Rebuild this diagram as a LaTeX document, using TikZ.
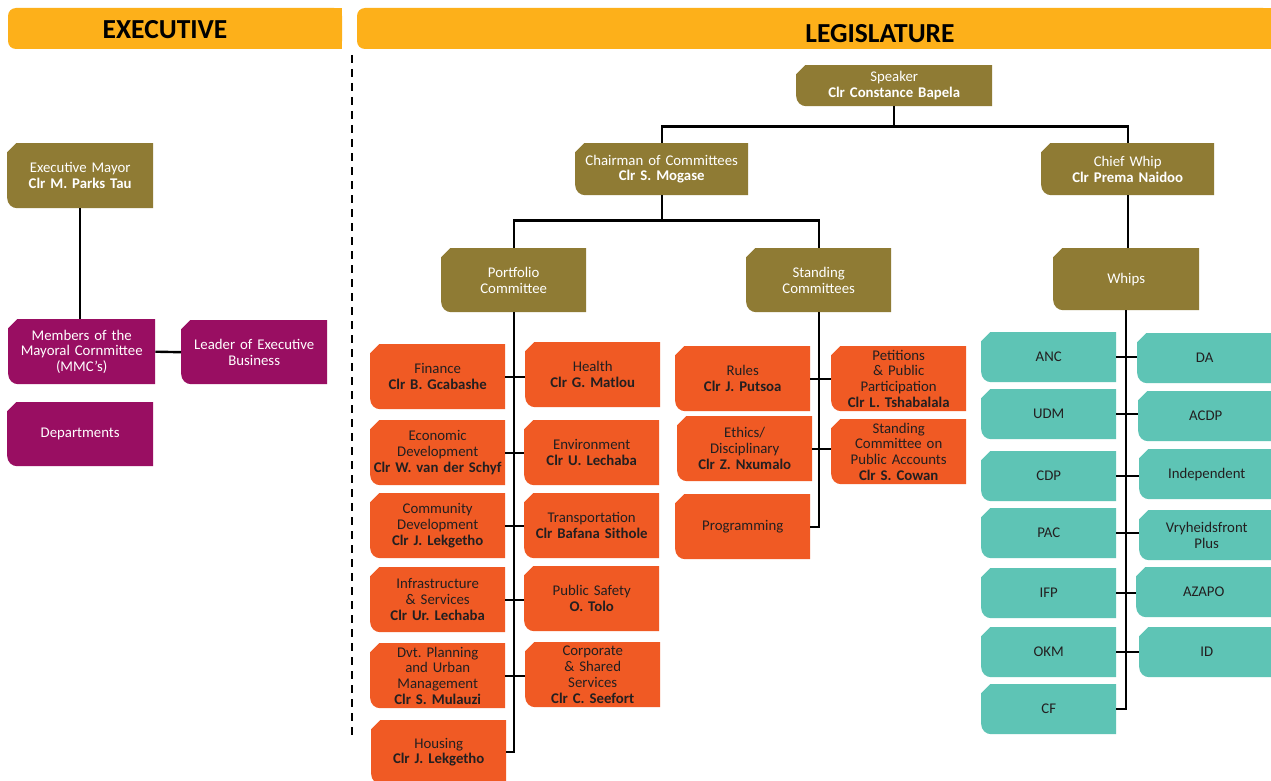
\documentclass[tikz,border=0pt]{standalone}
\usepackage{fontspec}
\setmainfont{Carlito}
\frenchspacing
\definecolor{goldc}{RGB}{143,123,52}
\definecolor{magc}{RGB}{153,14,98}
\definecolor{orc}{RGB}{240,90,36}
\definecolor{tealc}{RGB}{94,196,181}
\definecolor{hdrc}{RGB}{253,176,26}
\definecolor{darkc}{RGB}{35,31,32}
\tikzset{
  cb/.style={rectangle, inner sep=0pt, align=center,
    path picture={\fill[#1] ([xshift=9pt]path picture bounding box.north west) -- (path picture bounding box.north east) -- (path picture bounding box.south east) -- ([xshift=10pt]path picture bounding box.south west) arc[start angle=-90,end angle=-180,radius=10pt] -- ([yshift=-9pt]path picture bounding box.north west) -- cycle;}},
  gbox/.style={cb=goldc, text=white},
  mbox/.style={cb=magc, text=white, text width=146pt, minimum height=65pt},
  obox/.style={cb=orc, text=darkc, text width=135pt, minimum height=65pt},
  tbox/.style={cb=tealc, text=darkc, text width=135pt, minimum height=50pt},
  conn/.style={line width=2.4pt, draw=black},
  hdrtext/.style={font=\fontsize{27.5}{30}\selectfont\bfseries, text=black},
}
\begin{document}
\begin{tikzpicture}[x=1pt,y=-1pt, every node/.append style={font=\fontsize{14.8}{15.8}\selectfont}]
\useasboundingbox[fill=white] (0,0) rectangle (1271,781);
% headers
\fill[hdrc, rounded corners=8pt] (8,8) rectangle (342,49);
\fill[hdrc] (100,8) rectangle (342,49);
\fill[hdrc, rounded corners=8pt] (357,8) rectangle (1271,49);
\fill[hdrc] (450,8) rectangle (1271,49);
\node[hdrtext] (exechdr) at (165,30) {EXECUTIVE};
\node[hdrtext] (leghdr) at (880,34) {LEGISLATURE};
\coordinate (dtop) at (352,55);
\coordinate (dbot) at (352,735);
\draw[line width=2.4pt, dash pattern=on 8pt off 6pt] (dtop) -- (dbot);
% executive
\node[gbox, anchor=north west, text width=146pt, minimum height=65pt] (mayor) at (7,143) {Executive Mayor\\\textbf{Clr M. Parks Tau}};
\node[mbox, anchor=north west, text width=147pt] (mmc) at (8,319) {Members of the\\Mayoral Cornmittee\\(MMC’s)};
\node[mbox, anchor=north west, minimum height=64pt] (leader) at (181,320) {Leader of Executive\\Business};
\node[mbox, anchor=north west, minimum height=64pt] (dept) at (7,402) {Departments};
\draw[conn] (mayor.south) -- (mayor.south |- mmc.north);
\draw[conn] (mmc.east) -- (leader.west);
% legislature top
\node[gbox, anchor=north west, text width=196pt, minimum height=41pt] (speaker) at (796,65) {Speaker\\\textbf{Clr Constance Bapela}};
\node[gbox, anchor=north west, text width=173pt, minimum height=52pt] (chair) at (575,143) {Chairman of Committees\\\textbf{Clr S. Mogase}};
\node[gbox, anchor=north west, text width=173pt, minimum height=52pt] (whip) at (1041,143) {Chief Whip\\\textbf{Clr Prema Naidoo}};
\node[gbox, anchor=north west, text width=145pt, minimum height=64pt] (port) at (441,248) {Portfolio\\Committee};
\node[gbox, anchor=north west, text width=145pt, minimum height=64pt] (stand) at (746,248) {Standing\\Committees};
\node[gbox, anchor=north west, text width=146pt, minimum height=62pt] (whips) at (1053,248) {Whips};
\draw[conn] (speaker.south) -- ([yshift=-20pt]speaker.south);
\draw[conn] (chair.north) |- ([yshift=-20pt]speaker.south) -| (whip.north);
\draw[conn] (chair.south) -- ([yshift=-25pt]chair.south);
\draw[conn] (port.north) |- ([yshift=-25pt]chair.south) -| (stand.north);
\draw[conn] (whip.south) -- (whip.south |- whips.north);
% portfolio committees
\node[obox, anchor=north west] (fin) at (370,344) {Finance\\\textbf{Clr B. Gcabashe}};
\node[obox, anchor=north west] (eco) at (370,420) {Economic\\Development\\\textbf{Clr W. van der Schyf}};
\node[obox, anchor=north west] (com) at (370,493) {Community\\Development\\\textbf{Clr J. Lekgetho}};
\node[obox, anchor=north west] (inf) at (370,567) {Infrastructure\\\& Services\\\textbf{Clr Ur. Lechaba}};
\node[obox, anchor=north west] (dvt) at (370,643) {Dvt. Planning\\and Urban\\Management\\\textbf{Clr S. Mulauzi}};
\node[obox, anchor=north west, minimum height=64pt] (hou) at (371,720) {Housing\\\textbf{Clr J. Lekgetho}};
\node[obox, anchor=north west] (hea) at (525,342) {Health\\\textbf{Clr G. Matlou}};
\node[obox, anchor=north west] (env) at (524,420) {Environment\\\textbf{Clr U. Lechaba}};
\node[obox, anchor=north west] (tra) at (524,493) {Transportation\\\textbf{Clr Bafana Sithole}};
\node[obox, anchor=north west] (pub) at (524,566) {Public Safety\\\textbf{O. Tolo}};
\node[obox, anchor=north west] (cor) at (525,642) {Corporate\\\& Shared\\Services\\\textbf{Clr C. Seefort}};
\draw[conn] (port.south) |- (hou.east);
\draw[conn] (fin.east) -- (fin.east -| hea.west);
\draw[conn] (eco.east) -- (eco.east -| env.west);
\draw[conn] (com.east) -- (com.east -| tra.west);
\draw[conn] (inf.east) -- (inf.east -| pub.west);
\draw[conn] (dvt.east) -- (dvt.east -| cor.west);
% standing committees
\node[obox, anchor=north west] (rul) at (675,346) {Rules\\\textbf{Clr J. Putsoa}};
\node[obox, anchor=north west] (pet) at (831,346) {Petitions\\\& Public\\Participation\\\textbf{Clr L. Tshabalala}};
\node[obox, anchor=north west] (eth) at (677,416) {Ethics/\\Disciplinary\\\textbf{Clr Z. Nxumalo}};
\node[obox, anchor=north west] (sco) at (831,419) {Standing\\Committee on\\Public Accounts\\\textbf{Clr S. Cowan}};
\node[obox, anchor=north west] (pro) at (675,494) {Programming};
\draw[conn] (stand.south) |- (pro.east);
\draw[conn] (rul.east) -- (rul.east -| pet.west);
\draw[conn] (eth.east) -- (eth.east -| sco.west);
% whips
\node[tbox, anchor=north west] (anc) at (981,332) {ANC};
\node[tbox, anchor=north west] (udm) at (981,389) {UDM};
\node[tbox, anchor=north west] (cdp) at (981,451) {CDP};
\node[tbox, anchor=north west] (pac) at (981,508) {PAC};
\node[tbox, anchor=north west] (ifp) at (981,568) {IFP};
\node[tbox, anchor=north west] (okm) at (981,627) {OKM};
\node[tbox, anchor=north west] (cf) at (981,684) {CF};
\node[tbox, anchor=north west] (da) at (1137,333) {DA};
\node[tbox, anchor=north west] (acdp) at (1138,391) {ACDP};
\node[tbox, anchor=north west] (ind) at (1139,449) {Independent};
\node[tbox, anchor=north west] (vry) at (1139,510) {Vryheidsfront\\Plus};
\node[tbox, anchor=north west] (aza) at (1136,567) {AZAPO};
\node[tbox, anchor=north west] (id) at (1139,627) {ID};
\draw[conn] (whips.south) |- (cf.east);
\draw[conn] (anc.east) -- (anc.east -| da.west);
\draw[conn] (udm.east) -- (udm.east -| acdp.west);
\draw[conn] (cdp.east) -- (cdp.east -| ind.west);
\draw[conn] (pac.east) -- (pac.east -| vry.west);
\draw[conn] (ifp.east) -- (ifp.east -| aza.west);
\draw[conn] (okm.east) -- (okm.east -| id.west);
\end{tikzpicture}
\end{document}
